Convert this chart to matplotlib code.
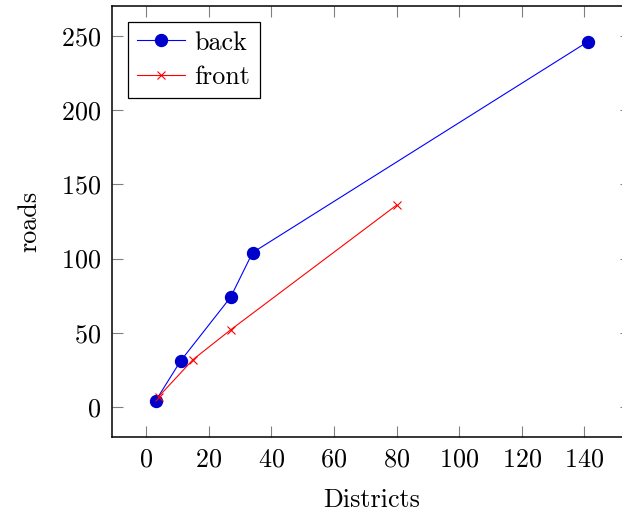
import matplotlib
matplotlib.use("Agg")
import matplotlib.pyplot as plt

back_x = [3, 11, 27, 34, 141]
back_y = [4, 31, 74, 104, 246]
front_x = [4, 15, 27, 80]
front_y = [7, 32, 52, 136]
x_ticks = [0, 20, 40, 60, 80, 100, 120, 140]
y_ticks = [0, 50, 100, 150, 200, 250]

plt.rcParams['font.family'] = ['cmr10', 'DejaVu Serif']
plt.rcParams['mathtext.fontset'] = 'cm'
plt.rcParams['axes.formatter.use_mathtext'] = True
fs = 18.8

fig = plt.figure(figsize=(6.22, 5.11), dpi=100)
ax = fig.add_axes([112.3 / 622, 74 / 511, (630.7 - 112.3) / 622, (437 - 6) / 511])

ax.plot(back_x, back_y, color='#0000ff', lw=0.8, marker='o', ms=8.6,
        mfc='#0000cc', mec='#0000cc', label='back')
ax.plot(front_x, front_y, color='#ff0000', lw=0.8, marker='x', ms=6,
        mew=0.8, label='front')

ax.set_xlim(-10.8, 154.8)
ax.set_ylim(-20.2, 270.2)
ax.set_xticks(x_ticks)
ax.set_yticks(y_ticks)
ax.tick_params(direction='in', length=8, width=0.8, color='#808080',
               top=True, right=True, labelsize=fs, pad=8)
for s in ax.spines.values():
    s.set_linewidth(1.1)
    s.set_color('black')

ax.set_xlabel('Districts', fontsize=fs, labelpad=12)
ax.set_ylabel('roads', fontsize=fs, labelpad=14)

leg = ax.legend(loc='upper left', fontsize=fs, handlelength=1.85,
                handletextpad=0.35, labelspacing=0.42, borderaxespad=0.6,
                borderpad=0.35, fancybox=False, framealpha=1, edgecolor='black')
leg.get_frame().set_linewidth(0.9)

fig.savefig('out.png', dpi=100)
